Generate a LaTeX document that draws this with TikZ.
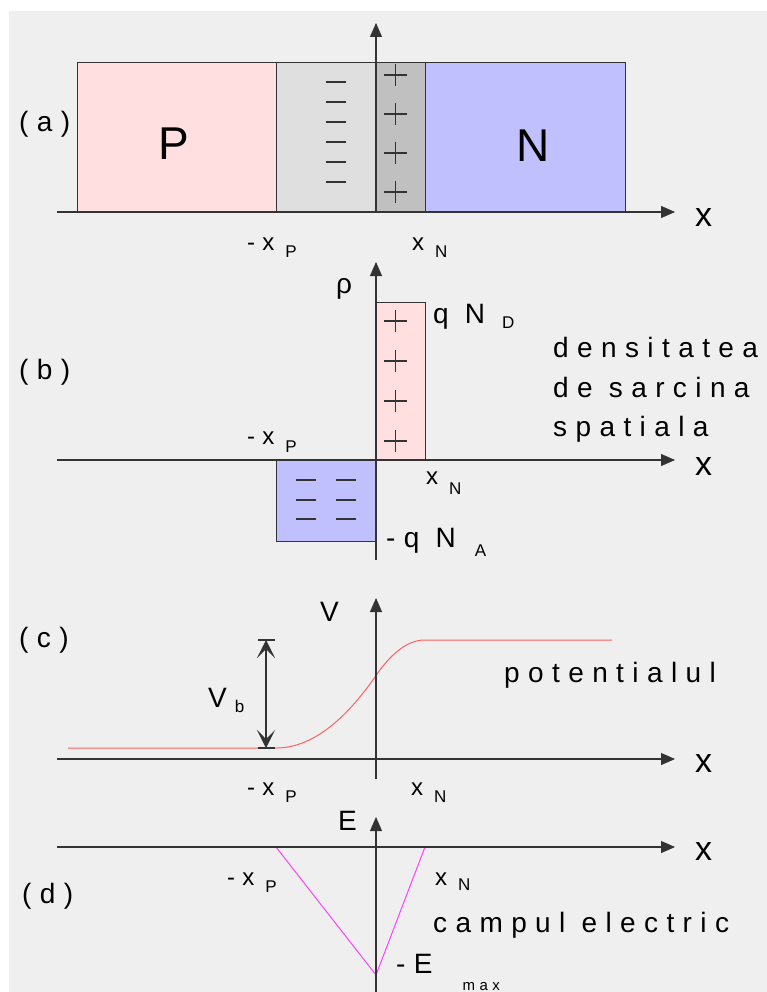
\documentclass[tikz,border=0pt]{standalone}
\usepackage{fontspec}
\usetikzlibrary{arrows.meta}
\newfontfamily\labfont[LetterSpace=30]{Liberation Sans}
\definecolor{bgcol}{RGB}{239,239,239}
\definecolor{pcol}{RGB}{255,223,224}
\definecolor{lgray}{RGB}{223,223,223}
\definecolor{dgray}{RGB}{192,192,192}
\definecolor{ncol}{RGB}{192,192,255}
\definecolor{vcol}{RGB}{255,96,96}
\definecolor{ecol}{RGB}{255,64,255}
\newcommand\fsz[1]{\fontsize{#1}{#1}\selectfont}
\newcommand\lowsub[3][11pt]{\hspace{#1}\raisebox{#2}{\fsz{17}#3}}
\begin{document}
\begin{tikzpicture}[x=1pt,y=-1pt,
  axis/.style={draw=black!80,line width=1.1pt,-{Triangle[length=14pt,width=12pt]}},
  edge/.style={draw=black!80,line width=1pt},
  sign/.style={black!80,line width=1.1pt},
  lbl/.style={anchor=base west,inner sep=0pt,font=\labfont\fsz{24}},
  txt/.style={anchor=base west,inner sep=0pt,font=\labfont\fsz{28}},
  axlbl/.style={anchor=base west,inner sep=0pt,font=\labfont\fsz{34}},
  big/.style={inner sep=0pt,font=\labfont\fsz{46}},
  dimarrow/.style={black!80,line width=1.1pt,{Stealth[length=18pt,width=18pt,inset=9pt]}-{Stealth[length=18pt,width=18pt,inset=9pt]}}]
\useasboundingbox (0,0) rectangle (767,992);
\fill[white] (0,0) rectangle (767,992);
\fill[bgcol] (9,11) rectangle (767,992);
% (a) the junction
\filldraw[pcol,edge] (77,63) rectangle (276,212);
\filldraw[lgray,edge] (276,63) rectangle (376,212);
\filldraw[dgray,edge] (376,63) rectangle (425,212);
\filldraw[ncol,edge] (425,63) rectangle (625,212);
\foreach \y in {82,102,122,142,162,182} {\draw[sign] (326,\y)--(346,\y);}
\foreach \y in {75,114,153,192} {\draw[sign] (384,\y)--(407,\y) (395.5,\y-11)--(395.5,\y+11);}
\draw[axis] (57,212)--(675,212);
\draw[axis] (376,212)--(376,23);
\node[txt] (la) at (19,132) {(a)};
\node[big] (pside) at (174,144) {P};
\node[big] (nside) at (533,146) {N};
\node[lbl] (xpa) at (247,251) {-x\lowsub{-7pt}{P}};
\node[lbl] (xna) at (412,251) {x\lowsub{-7pt}{N}};
\node[axlbl] (xa) at (695,227) {x};
% (b) charge density
\filldraw[pcol,edge] (376,460) rectangle (425,302);
\filldraw[ncol,edge] (276,460) rectangle (376,541);
\foreach \y in {321,361,401,441} {\draw[sign] (384,\y)--(407,\y) (395.5,\y-11)--(395.5,\y+11);}
\foreach \x in {306,346} {\foreach \y in {480,500,519} {\draw[sign] (\x-10,\y)--(\x+10,\y);}}
\draw[axis] (57,460)--(675,460);
\draw[axis] (376,560)--(376,262);
\node[txt] (rho) at (336,293) {ρ};
\node[txt] (qnd) at (433,323) {q N\lowsub[17pt]{-5pt}{D}};
\node[txt] (dens) at (553,357) {densitatea};
\node[txt] (sarc) at (553,397) {de sarcina};
\node[txt] (spat) at (553,436) {spatiala};
\node[lbl] (xpb) at (247,444) {-x\lowsub{-8pt}{P}};
\node[lbl] (xnb) at (426,484) {x\lowsub{-10pt}{N}};
\node[txt] (qna) at (386,547) {-q N\lowsub[19pt]{-9pt}{A}};
\node[txt] (lb) at (19,379) {(b)};
\node[axlbl] (xb) at (695,475) {x};
% (c) potential
\draw[vcol,line width=1pt] (68,748) -- plot[domain=276:376,samples=40] (\x,{748-72.5*((\x-276)/100)^2})
  -- plot[domain=376:425,samples=25] (\x,{640+35.5*((425-\x)/49)^2}) -- (612,640);
\coordinate (vbtop) at (266,640);
\coordinate (vbbot) at (266,748);
\draw[dimarrow] (vbtop)--(vbbot);
\draw[black!80,line width=1.1pt] ([xshift=-8pt]vbtop)--([xshift=9pt]vbtop) ([xshift=-8pt]vbbot)--([xshift=9pt]vbbot);
\draw[axis] (57,759)--(675,759);
\draw[axis] (376,779)--(376,598);
\node[txt] (vlab) at (320,621) {V};
\node[txt] (vb) at (208,707) {V\lowsub[8pt]{-5pt}{b}};
\node[txt] (pot) at (504,682) {potentialul};
\node[lbl] (xpc) at (247,795) {-x\lowsub{-7pt}{P}};
\node[lbl] (xnc) at (411,795) {x\lowsub{-7pt}{N}};
\node[txt] (lc) at (19,647) {(c)};
\node[axlbl] (xc) at (695,772) {x};
% (d) electric field
\coordinate (emin) at (376,975);
\draw[ecol,line width=1pt] (276,847)--(emin)--(425,847);
\draw[axis] (57,847)--(675,847);
\draw[axis] (376,1000)--(376,817);
\node[txt] (elab) at (338,830) {E};
\node[lbl] (xpd) at (227,885) {-x\lowsub{-7pt}{P}};
\node[lbl] (xnd) at (435,885) {x\lowsub{-5pt}{N}};
\node[txt] (ld) at (22,903) {(d)};
\node[txt] (camp) at (433,932) {campul electric};
\node[txt] (emax) at (396,973) {-E\lowsub[30pt]{-17pt}{\fsz{15}max}};
\node[axlbl] (xd) at (695,860) {x};
\end{tikzpicture}
\end{document}
